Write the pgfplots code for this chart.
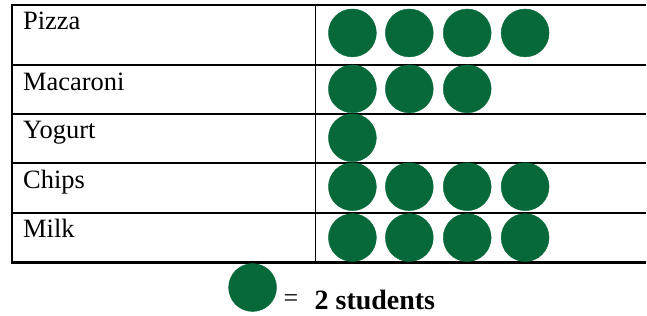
\documentclass[border=0pt]{standalone}
\usepackage{pgfplots}
\pgfplotsset{compat=1.18}
\usepackage{fontspec}
\setmainfont{Liberation Serif}
\definecolor{pgreen}{RGB}{7,105,58}
\begin{document}
\begin{tikzpicture}
\begin{axis}[
  scale only axis, width=647pt, height=316pt,
  xmin=0, xmax=647, ymin=0, ymax=316, y dir=reverse,
  hide axis, clip=false,
]
\path (axis cs:0,0) rectangle (axis cs:647,316);
% table lines
\addplot[black, line width=2.2pt] coordinates {(11,5) (647,5)};
\addplot[black, line width=2.2pt] coordinates {(11,65) (647,65)};
\addplot[black, line width=2.2pt] coordinates {(11,114) (647,114)};
\addplot[black, line width=2.2pt] coordinates {(11,163) (647,163)};
\addplot[black, line width=2.2pt] coordinates {(11,213) (647,213)};
\addplot[black, line width=2.2pt] coordinates {(11,263) (647,263)};
\addplot[black, line width=1.6pt] coordinates {(12,5) (12,263)};
\addplot[black, line width=1.6pt] coordinates {(316,5) (316,263)};
% pictograph circles (each = 2 students): Pizza 4, Macaroni 3, Yogurt 1, Chips 4, Milk 4
\addplot[only marks, mark=*, mark size=24pt, color=pgreen, mark options={draw=pgreen, fill=pgreen}] coordinates {
 (353,33) (410,33) (468,33) (526,33)
 (353,89) (410,89) (468,89)
 (353,138)
 (353,187) (410,187) (468,187) (526,187)
 (353,238) (410,238) (468,238) (526,238)
};
% legend symbol
\addplot[only marks, mark=*, mark size=24pt, color=pgreen, mark options={draw=pgreen, fill=pgreen}] coordinates {(253,288)};
\node[anchor=base west, inner sep=0pt, font=\fontsize{26.5}{30}\selectfont] at (axis cs:23,30) {Pizza};
\node[anchor=base west, inner sep=0pt, font=\fontsize{26.5}{30}\selectfont] at (axis cs:23,91) {Macaroni};
\node[anchor=base west, inner sep=0pt, font=\fontsize{26.5}{30}\selectfont] at (axis cs:23,139) {Yogurt};
\node[anchor=base west, inner sep=0pt, font=\fontsize{26.5}{30}\selectfont] at (axis cs:23,189) {Chips};
\node[anchor=base west, inner sep=0pt, font=\fontsize{26.5}{30}\selectfont] at (axis cs:23,238) {Milk};
\node[anchor=base west, inner sep=0pt, font=\fontsize{26}{30}\selectfont] at (axis cs:284,307) {=};
\node[anchor=base west, inner sep=0pt, font=\fontsize{28}{32}\selectfont\bfseries] at (axis cs:315,310) {2 students};
\end{axis}
\end{tikzpicture}
\end{document}
